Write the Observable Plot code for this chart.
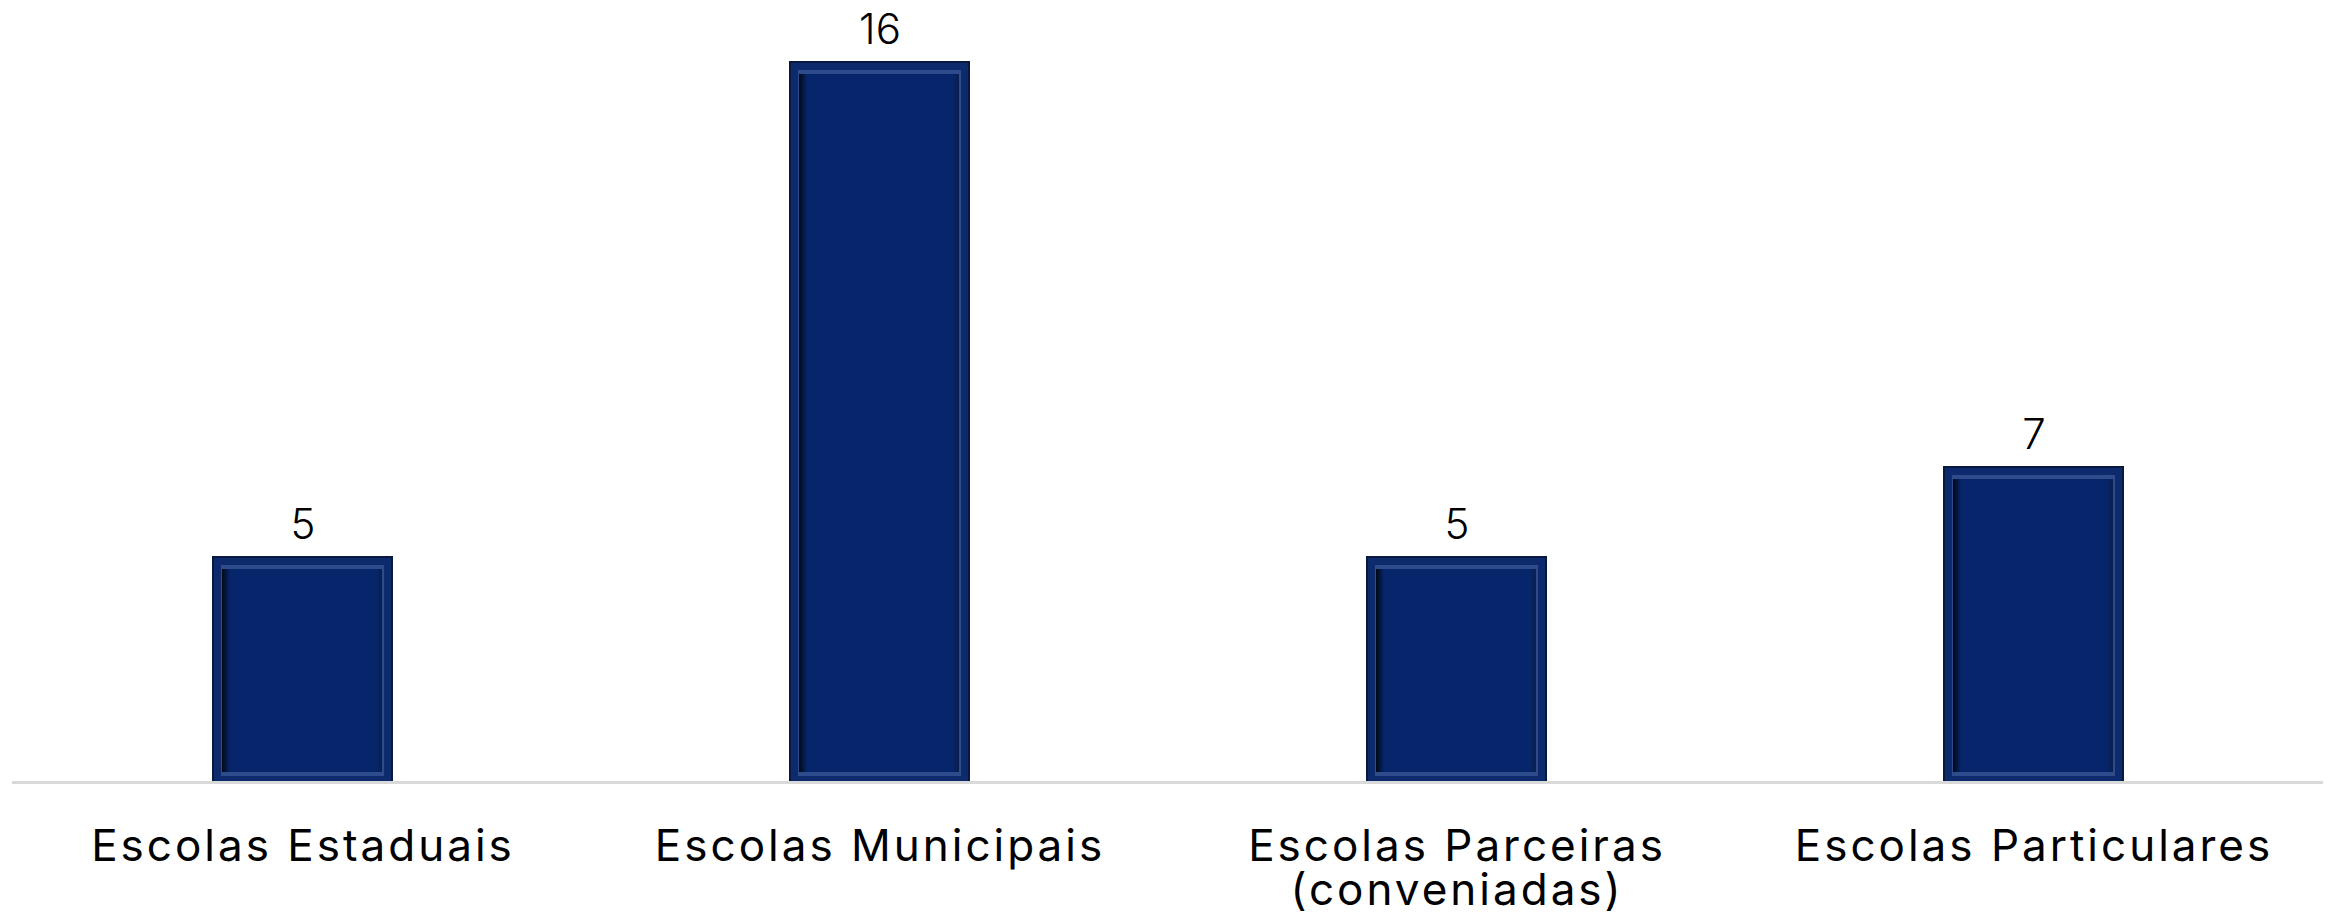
<!DOCTYPE html>
<html>
<head>
<meta charset="utf-8">
<script src="https://cdn.jsdelivr.net/npm/d3@7"></script>
<script src="https://cdn.jsdelivr.net/npm/@observablehq/plot@0.6"></script>
<style>
  html, body { margin: 0; padding: 0; background: #fff; }
  #chart svg { display: block; }
  #chart svg g[aria-label="x-axis tick label"] text { letter-spacing: 3px; }
</style>
</head>
<body>
<svg width="0" height="0" style="position:absolute">
  <defs>
    <linearGradient id="innerGrad" x1="0" x2="1" y1="0" y2="0">
      <stop offset="0" stop-color="#000814"/>
      <stop offset="0.05" stop-color="#06256a"/>
      <stop offset="0.96" stop-color="#06256a"/>
      <stop offset="1" stop-color="#0b1f4f"/>
    </linearGradient>
  </defs>
</svg>
<div id="chart"></div>
<script>
const categories = ["Escolas Estaduais", "Escolas Municipais", "Escolas Parceiras\n(conveniadas)", "Escolas Particulares"];
const values = [5, 16, 5, 7];

const data = categories.map((c, i) => ({category: c, value: values[i]}));

const chart = Plot.plot({
  width: 2328,
  height: 916,
  marginLeft: 12,
  marginRight: 5,
  marginTop: 62,
  marginBottom: 134,
  style: {fontFamily: "Inter, 'Noto Sans', sans-serif", background: "#fff"},
  x: {domain: categories, paddingInner: 0.69, paddingOuter: 0.345},
  y: {domain: [0, 16], axis: null},
  marks: [
    Plot.barY(data, {x: "category", y: "value", fill: "#0c2a6c", stroke: "#08183f", strokeWidth: 2}),
    Plot.barY(data, {x: "category", y: "value", fill: "#2e4c8c", insetLeft: 8, insetRight: 8, insetTop: 8, insetBottom: 6}),
    Plot.barY(data, {x: "category", y: "value", fill: "url(#innerGrad)", insetLeft: 9, insetRight: 10, insetTop: 12, insetBottom: 10}),
    Plot.ruleY([0], {stroke: "#d9d9d9", strokeWidth: 3}),
    Plot.text(data, {x: "category", y: "value", text: d => String(d.value), dy: -19, lineAnchor: "bottom", fontSize: 42, fontWeight: 300, fill: "#000"}),
    Plot.axisX({tickSize: 0, tickPadding: 47, fontSize: 44, lineHeight: 1.0, color: "#000", label: null})
  ]
});
document.getElementById("chart").appendChild(chart);
</script>
</body>
</html>
